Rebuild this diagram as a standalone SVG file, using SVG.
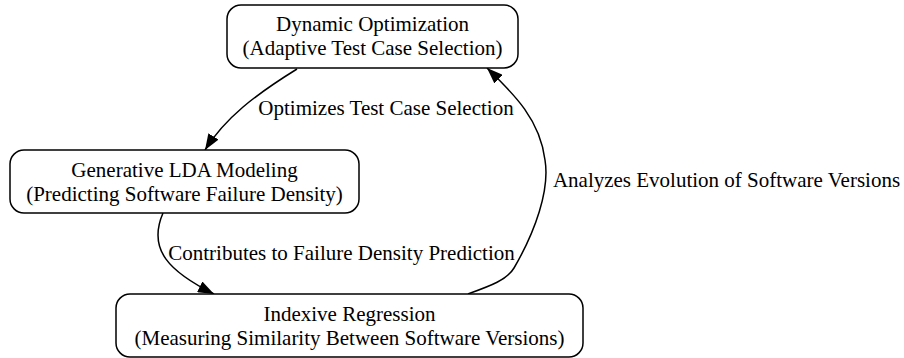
<svg xmlns="http://www.w3.org/2000/svg" width="904" height="358" viewBox="0 0 904 358">
<defs>
<style>
.node rect { fill: #ffffff; stroke: #000000; stroke-width: 1.5; }
text { font-family: 'Liberation Serif', 'Times New Roman', Tinos, 'DejaVu Serif', serif; font-size: 21px; fill: #000000; text-anchor: middle; }
.edge { fill: none; stroke: #000000; stroke-width: 1.5; }
</style>
<marker id="arrow" markerUnits="userSpaceOnUse" markerWidth="17" markerHeight="12" refX="16" refY="6" orient="auto">
<path d="M0,0 L16,6 L0,12 Z" fill="#000000"/>
</marker>
</defs>
<rect width="904" height="358" fill="#ffffff"/>
<g id="connectors">
<path class="edge" d="M297,69 C255,95 225,118 205,150" marker-end="url(#arrow)"/>
<path class="edge" d="M163,213 C147,250 170,272 214,294" marker-end="url(#arrow)"/>
<path class="edge" d="M468,294 C490,286 507,280 514,268 C535,232 550,190 545,160 C540,120 515,95 487,68" marker-end="url(#arrow)"/>
<text x="386" y="115">Optimizes Test Case Selection</text>
<text x="341.5" y="260">Contributes to Failure Density Prediction</text>
<text x="726.5" y="187">Analyzes Evolution of Software Versions</text>
</g>
<g id="dynamic-optimization" class="node">
<rect x="227" y="5" width="291" height="63" rx="14" ry="14"/>
<text x="372.5" y="31">Dynamic Optimization</text>
<text x="372.5" y="55">(Adaptive Test Case Selection)</text>
</g>
<g id="generative-lda" class="node">
<rect x="10" y="150" width="349" height="63" rx="14" ry="14"/>
<text x="184.5" y="177">Generative LDA Modeling</text>
<text x="184.5" y="201">(Predicting Software Failure Density)</text>
</g>
<g id="indexive-regression" class="node">
<rect x="116" y="294" width="467" height="63" rx="14" ry="14"/>
<text x="349.5" y="321">Indexive Regression</text>
<text x="349.5" y="345">(Measuring Similarity Between Software Versions)</text>
</g>
</svg>
